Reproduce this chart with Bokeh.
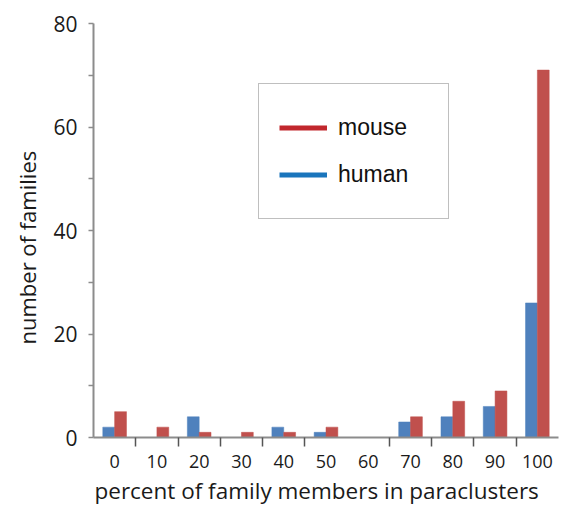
from bokeh.plotting import figure
from bokeh.models import (ColumnDataSource, FixedTicker, Range1d, Legend, LegendItem, Title)
from bokeh.transform import dodge
from bokeh.embed import file_html
from bokeh.resources import INLINE

categories = ["0", "10", "20", "30", "40", "50", "60", "70", "80", "90", "100"]
human = [2, 0, 4, 0, 2, 1, 0, 3, 4, 6, 26]
mouse = [5, 2, 1, 1, 1, 2, 0, 4, 7, 9, 71]
y_ticks = [0, 20, 40, 60, 80]
y_minor = [10, 30, 50, 70]
x_minor = [0.5, 1.5, 2.5, 3.5, 4.5, 6.5, 7.5, 8.5, 9.5]
x_title = "percent of family members in paraclusters"
y_title = "number of families"

idx = list(range(len(categories)))
src = ColumnDataSource(data=dict(x=idx, cat=categories, human=human, mouse=mouse))

p = figure(width=562, height=507, output_backend="svg", toolbar_location=None,
           x_range=Range1d(-0.5, len(categories) - 0.5), y_range=Range1d(0, 80),
           min_border_left=93, min_border_right=4, min_border_top=23, min_border_bottom=69)
p.outline_line_color = None
p.xgrid.grid_line_color = None
p.ygrid.grid_line_color = None
p.background_fill_color = "white"
p.border_fill_color = "white"

bw = 0.28
p.vbar(x=dodge("x", -bw / 2, range=p.x_range), top="human", width=bw, bottom=0,
       source=src, fill_color="#4F81BD", line_color="#4F81BD", line_width=0.5)
p.vbar(x=dodge("x", bw / 2, range=p.x_range), top="mouse", width=bw, bottom=0,
       source=src, fill_color="#C0504D", line_color="#C0504D", line_width=0.5)

# legend-only line renderers (hidden in the plot area)
lm = p.line(x="x", y="mouse", source=src, line_color="#C1272D", line_width=5, visible=False)
lh = p.line(x="x", y="human", source=src, line_color="#1A75BC", line_width=5, visible=False)

axis_color = "#8C8C8C"
tick_font = "Open Sans"

xa = p.xaxis[0]
xa.ticker = FixedTicker(ticks=idx, minor_ticks=x_minor)
xa.major_label_overrides = {i: c for i, c in zip(idx, categories)}
xa.major_tick_out = 0
xa.major_tick_in = 0
xa.minor_tick_out = 9
xa.minor_tick_in = 0
xa.minor_tick_line_color = "#555555"
xa.minor_tick_line_width = 1.5
xa.axis_line_color = axis_color
xa.axis_line_width = 2
xa.major_label_standoff = 8
xa.major_label_text_font = tick_font
xa.major_label_text_font_size = "18px"
xa.major_label_text_color = "#1a1a1a"

ya = p.yaxis[0]
ya.ticker = FixedTicker(ticks=y_ticks, minor_ticks=y_minor)
ya.major_tick_out = 5
ya.major_tick_in = 0
ya.minor_tick_out = 5
ya.minor_tick_in = 0
ya.major_tick_line_color = axis_color
ya.minor_tick_line_color = axis_color
ya.major_tick_line_width = 1.5
ya.minor_tick_line_width = 1.5
ya.axis_line_color = axis_color
ya.axis_line_width = 2
ya.major_label_standoff = 11
ya.major_label_text_font = tick_font
ya.major_label_text_font_size = "21px"
ya.major_label_text_color = "#1a1a1a"

tx = Title(text=x_title, align="left", offset=1, standoff=4,
           text_font=tick_font, text_font_size="22.5px", text_font_style="normal",
           text_color="#1a1a1a")
p.add_layout(tx, "below")
ty = Title(text=y_title, align="left", offset=93, standoff=17,
           text_font=tick_font, text_font_size="22px", text_font_style="normal",
           text_color="#1a1a1a")
p.add_layout(ty, "left")

legend = Legend(items=[LegendItem(label="mouse", renderers=[lm]),
                       LegendItem(label="human", renderers=[lh])],
                location=(165, 218))
legend.padding = 20
legend.spacing = 0
legend.glyph_width = 48
legend.glyph_height = 47
legend.label_height = 47
legend.label_width = 90
legend.label_standoff = 11
legend.label_text_font = "Liberation Sans"
legend.label_text_font_size = "23px"
legend.label_text_color = "#111111"
legend.border_line_color = "#808080"
legend.border_line_width = 1
legend.background_fill_color = "white"
legend.background_fill_alpha = 1
legend.margin = 0
p.add_layout(legend, "center")

open("out.html", "w").write(file_html(p, INLINE))
